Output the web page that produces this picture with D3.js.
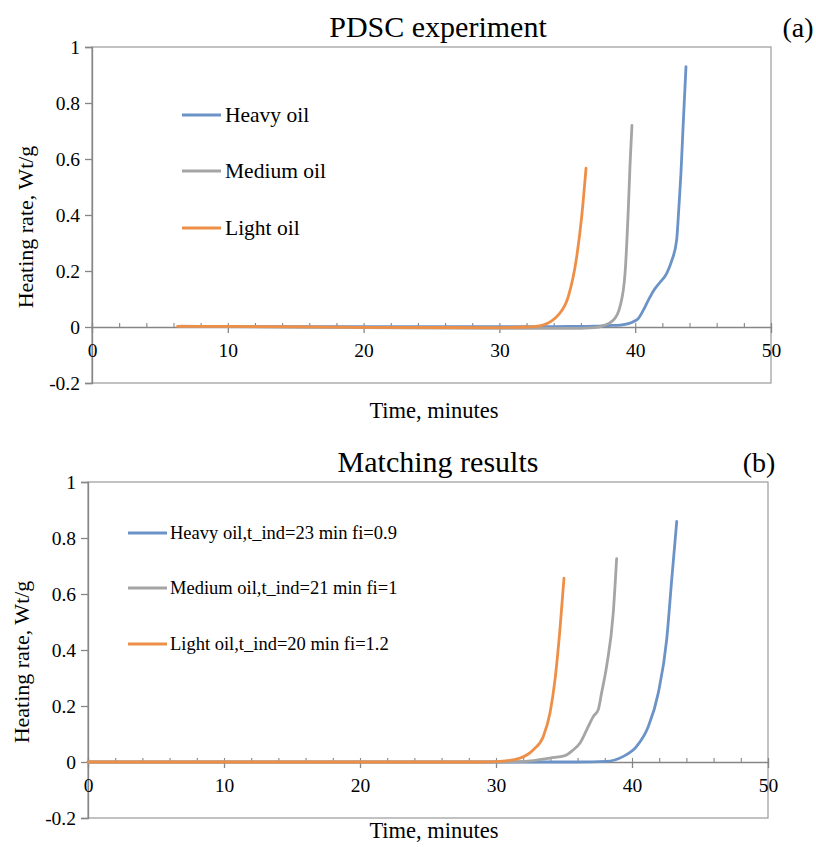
<!DOCTYPE html>
<html>
<head>
<meta charset="utf-8">
<script src="https://cdn.jsdelivr.net/npm/d3@7"></script>
<style>
  body { margin: 0; background: #fff; }
  svg text { font-family: "Liberation Serif", "Times New Roman", serif; fill: #000; }
</style>
</head>
<body>
<div id="chart"></div>
<script>
// Width and height
var chart_width  = 816;
var chart_height = 847;

var colors = { heavy: '#6b93c7', medium: '#a5a5a5', light: '#ee8f48' };

var x_ticks = [0, 10, 20, 30, 40, 50];
var y_ticks = [-0.2, 0, 0.2, 0.4, 0.6, 0.8, 1];
var y_labels = ['-0.2', '0', '0.2', '0.4', '0.6', '0.8', '1'];

// (a) PDSC experiment
var a_heavy_t  = [6.5, 10, 15, 20, 25, 30, 35, 37, 38, 38.9, 39.5, 39.86, 40.24, 40.6, 40.97, 41.33, 41.8, 42.3, 42.68, 43.05, 43.22, 43.37, 43.54, 43.74];
var a_heavy_v  = [0.002, 0.002, 0.001, 0.001, 0.001, 0.001, 0.002, 0.003, 0.005, 0.007, 0.012, 0.019, 0.031, 0.06, 0.096, 0.128, 0.158, 0.19, 0.235, 0.31, 0.43, 0.55, 0.73, 0.93];
var a_medium_t = [6.5, 10, 20, 30, 35, 37, 37.65, 38.4, 38.88, 39.25, 39.5, 39.62, 39.76];
var a_medium_v = [0.003, 0.001, -0.002, -0.005, -0.005, -0.002, 0.005, 0.025, 0.073, 0.19, 0.43, 0.58, 0.72];
var a_light_t  = [6.3, 10, 20, 30, 32, 33.2, 33.8, 34.34, 35.07, 35.69, 36.06, 36.38];
var a_light_v  = [0.002, 0.002, -0.001, -0.002, 0, 0.007, 0.02, 0.043, 0.108, 0.25, 0.394, 0.567];

// (b) Matching results
var b_heavy_t  = [0, 10, 20, 30, 36, 38.1, 39.36, 40.34, 41.2, 41.93, 42.55, 42.92, 43.29];
var b_heavy_v  = [0, 0, 0, 0, 0, 0.002, 0.02, 0.056, 0.127, 0.246, 0.437, 0.651, 0.859];
var b_medium_t = [0, 10, 20, 30, 31.5, 32.75, 33.97, 35.07, 35.6, 36.18, 36.79, 37.16, 37.52, 37.76, 38.13, 38.62, 38.87];
var b_medium_v = [0, 0, 0, 0, 0.001, 0.005, 0.014, 0.0225, 0.04, 0.068, 0.127, 0.163, 0.187, 0.246, 0.341, 0.532, 0.726];
var b_light_t  = [0, 10, 20, 29, 30.3, 31.76, 32.75, 33.48, 33.97, 34.34, 34.7, 35.0];
var b_light_v  = [0, 0, 0, 0, 0.002, 0.014, 0.044, 0.0914, 0.175, 0.294, 0.4725, 0.657];

var a_names = ['Heavy oil', 'Medium oil', 'Light oil'];
var b_names = ['Heavy oil,t_ind=23 min fi=0.9', 'Medium oil,t_ind=21 min fi=1', 'Light oil,t_ind=20 min fi=1.2'];

function zip(t, v){ return t.map((d, i) => [d, v[i]]); }

var svg = d3.select('#chart')
  .append('svg')
  .attr('width', chart_width)
  .attr('height', chart_height);

var panels = [
  {
    title: 'PDSC experiment', tag: '(a)', tagX: 798,
    left: 92, right: 771, top: 47, bottom: 383, titleY: 37,
    series: [zip(a_heavy_t, a_heavy_v), zip(a_medium_t, a_medium_v), zip(a_light_t, a_light_v)],
    names: a_names, legX: 182, legY: [115, 171, 228], legSize: 21.5, legGap: 4,
    xTitleY: 418, yTitleX: 33, titleCx: 438
  },
  {
    title: 'Matching results', tag: '(b)', tagX: 759,
    left: 88, right: 768, top: 482, bottom: 818, titleY: 472,
    series: [zip(b_heavy_t, b_heavy_v), zip(b_medium_t, b_medium_v), zip(b_light_t, b_light_v)],
    names: b_names, legX: 128, legY: [533, 588, 644], legSize: 18.5, legGap: 3,
    xTitleY: 838, yTitleX: 29, titleCx: 438
  }
];

var keys = ['heavy', 'medium', 'light'];

panels.forEach(function(p){
  var xs = d3.scaleLinear().domain([0, 50]).range([p.left, p.right]);
  var ys = d3.scaleLinear().domain([-0.2, 1]).range([p.bottom, p.top]);
  var g  = svg.append('g');

  // plot area border
  g.append('rect')
    .attr('x', p.left).attr('y', p.top)
    .attr('width', p.right - p.left).attr('height', p.bottom - p.top)
    .attr('fill', 'none').attr('stroke', '#9a9a9a').attr('stroke-width', 1.2);

  // y axis
  var yAxis = d3.axisLeft(ys).tickValues(y_ticks).tickSize(7).tickPadding(5)
    .tickFormat((d, i) => y_labels[i]);
  var yg = g.append('g').attr('transform', 'translate(' + p.left + ',0)').call(yAxis);
  yg.attr('font-family', null);
  yg.select('.domain').attr('stroke', '#868686').attr('stroke-width', 1.3);
  yg.selectAll('line').attr('stroke', '#868686').attr('stroke-width', 1.3);
  yg.selectAll('text').attr('font-size', 19.5);

  // x axis at y=0: minor ticks inside, major ticks below
  var y0 = ys(0);
  var xMinor = d3.axisTop(xs).tickValues(d3.range(2, 50, 2)).tickSize(4).tickFormat('');
  var xm = g.append('g').attr('transform', 'translate(0,' + y0 + ')').call(xMinor);
  xm.select('.domain').attr('stroke', '#868686').attr('stroke-width', 1.3);
  xm.selectAll('line').attr('stroke', '#868686').attr('stroke-width', 1.1);

  var xAxis = d3.axisBottom(xs).tickValues(x_ticks).tickSize(6).tickPadding(10).tickFormat(d3.format('d'));
  var xg = g.append('g').attr('transform', 'translate(0,' + y0 + ')').call(xAxis);
  xg.attr('font-family', null);
  xg.select('.domain').remove();
  xg.selectAll('line').attr('stroke', '#868686').attr('stroke-width', 1.3);
  xg.selectAll('text').attr('font-size', 19.5);

  // series
  var line = d3.line().x(d => xs(d[0])).y(d => ys(d[1])).curve(d3.curveMonotoneX);
  p.series.forEach(function(s, i){
    g.append('path')
      .datum(s)
      .attr('d', line)
      .attr('fill', 'none')
      .attr('stroke', colors[keys[i]])
      .attr('stroke-width', 2.8)
      .attr('stroke-linejoin', 'round')
      .attr('stroke-linecap', 'round');
  });

  // legend
  p.names.forEach(function(n, i){
    g.append('line')
      .attr('x1', p.legX).attr('x2', p.legX + 39)
      .attr('y1', p.legY[i]).attr('y2', p.legY[i])
      .attr('stroke', colors[keys[i]]).attr('stroke-width', 2.8);
    g.append('text')
      .attr('x', p.legX + 39 + p.legGap).attr('y', p.legY[i])
      .attr('dy', '0.33em')
      .attr('font-size', p.legSize)
      .text(n);
  });

  // titles
  g.append('text')
    .attr('x', p.titleCx).attr('y', p.titleY)
    .attr('text-anchor', 'middle').attr('font-size', 30)
    .text(p.title);
  g.append('text')
    .attr('x', p.tagX).attr('y', p.titleY)
    .attr('text-anchor', 'middle').attr('font-size', 28)
    .text(p.tag);
  g.append('text')
    .attr('x', p.titleCx - 4).attr('y', p.xTitleY)
    .attr('text-anchor', 'middle').attr('font-size', 22.5)
    .text('Time, minutes');
  g.append('text')
    .attr('transform', 'translate(' + p.yTitleX + ',' + ((p.top + p.bottom) / 2 + 12) + ') rotate(-90)')
    .attr('text-anchor', 'middle').attr('font-size', 22)
    .text('Heating rate, Wt/g');
});
</script>
</body>
</html>
